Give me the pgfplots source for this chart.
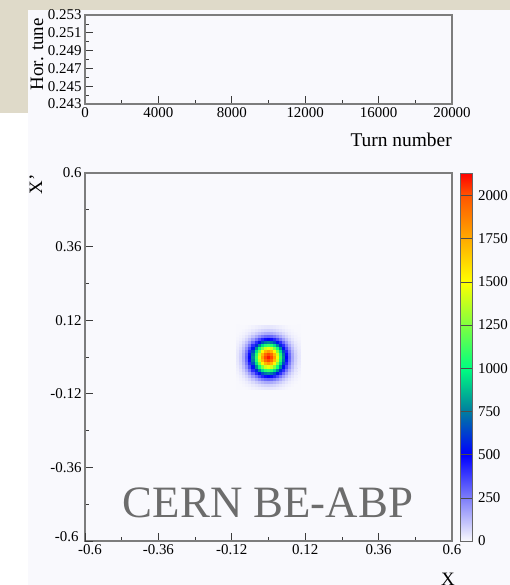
\documentclass[border=0pt]{standalone}
\usepackage{pgfplots}
\pgfplotsset{compat=1.18}
\usepackage{pgfplotstable}
\usepackage{fontspec}
\setmainfont{Liberation Serif}

\definecolor{paper}{RGB}{223,218,201}
\definecolor{panel}{RGB}{249,249,253}
\definecolor{framegray}{RGB}{125,125,125}
\definecolor{tickgray}{RGB}{60,60,60}
\definecolor{watermark}{RGB}{108,108,108}

% beam density histogram, bins of 0.01 around the origin (x varies fastest)
\pgfplotstableread[row sep=\\]{
x y c\\
-0.10 -0.10 1\\ -0.09 -0.10 2\\ -0.08 -0.10 3\\ -0.07 -0.10 5\\ -0.06 -0.10 9\\ -0.05 -0.10 14\\ -0.04 -0.10 20\\ -0.03 -0.10 27\\ -0.02 -0.10 33\\ -0.01 -0.10 37\\ 0 -0.10 38\\ 0.01 -0.10 37\\ 0.02 -0.10 33\\ 0.03 -0.10 27\\ 0.04 -0.10 20\\ 0.05 -0.10 14\\ 0.06 -0.10 9\\ 0.07 -0.10 5\\ 0.08 -0.10 3\\ 0.09 -0.10 2\\ 0.10 -0.10 1\\
-0.10 -0.09 2\\ -0.09 -0.09 3\\ -0.08 -0.09 6\\ -0.07 -0.09 12\\ -0.06 -0.09 19\\ -0.05 -0.09 30\\ -0.04 -0.09 43\\ -0.03 -0.09 57\\ -0.02 -0.09 70\\ -0.01 -0.09 79\\ 0 -0.09 82\\ 0.01 -0.09 79\\ 0.02 -0.09 70\\ 0.03 -0.09 57\\ 0.04 -0.09 43\\ 0.05 -0.09 30\\ 0.06 -0.09 19\\ 0.07 -0.09 12\\ 0.08 -0.09 6\\ 0.09 -0.09 3\\ 0.10 -0.09 2\\
-0.10 -0.08 3\\ -0.09 -0.08 6\\ -0.08 -0.08 13\\ -0.07 -0.08 23\\ -0.06 -0.08 38\\ -0.05 -0.08 60\\ -0.04 -0.08 86\\ -0.03 -0.08 113\\ -0.02 -0.08 138\\ -0.01 -0.08 156\\ 0 -0.08 162\\ 0.01 -0.08 156\\ 0.02 -0.08 138\\ 0.03 -0.08 113\\ 0.04 -0.08 86\\ 0.05 -0.08 60\\ 0.06 -0.08 38\\ 0.07 -0.08 23\\ 0.08 -0.08 13\\ 0.09 -0.08 6\\ 0.10 -0.08 3\\
-0.10 -0.07 5\\ -0.09 -0.07 12\\ -0.08 -0.07 23\\ -0.07 -0.07 42\\ -0.06 -0.07 70\\ -0.05 -0.07 109\\ -0.04 -0.07 156\\ -0.03 -0.07 206\\ -0.02 -0.07 252\\ -0.01 -0.07 284\\ 0 -0.07 296\\ 0.01 -0.07 284\\ 0.02 -0.07 252\\ 0.03 -0.07 206\\ 0.04 -0.07 156\\ 0.05 -0.07 109\\ 0.06 -0.07 70\\ 0.07 -0.07 42\\ 0.08 -0.07 23\\ 0.09 -0.07 12\\ 0.10 -0.07 5\\
-0.10 -0.06 9\\ -0.09 -0.06 19\\ -0.08 -0.06 38\\ -0.07 -0.06 70\\ -0.06 -0.06 118\\ -0.05 -0.06 183\\ -0.04 -0.06 262\\ -0.03 -0.06 347\\ -0.02 -0.06 424\\ -0.01 -0.06 478\\ 0 -0.06 498\\ 0.01 -0.06 478\\ 0.02 -0.06 424\\ 0.03 -0.06 347\\ 0.04 -0.06 262\\ 0.05 -0.06 183\\ 0.06 -0.06 118\\ 0.07 -0.06 70\\ 0.08 -0.06 38\\ 0.09 -0.06 19\\ 0.10 -0.06 9\\
-0.10 -0.05 14\\ -0.09 -0.05 30\\ -0.08 -0.05 60\\ -0.07 -0.05 109\\ -0.06 -0.05 183\\ -0.05 -0.05 284\\ -0.04 -0.05 407\\ -0.03 -0.05 539\\ -0.02 -0.05 658\\ -0.01 -0.05 742\\ 0 -0.05 773\\ 0.01 -0.05 742\\ 0.02 -0.05 658\\ 0.03 -0.05 539\\ 0.04 -0.05 407\\ 0.05 -0.05 284\\ 0.06 -0.05 183\\ 0.07 -0.05 109\\ 0.08 -0.05 60\\ 0.09 -0.05 30\\ 0.10 -0.05 14\\
-0.10 -0.04 20\\ -0.09 -0.04 43\\ -0.08 -0.04 86\\ -0.07 -0.04 156\\ -0.06 -0.04 262\\ -0.05 -0.04 407\\ -0.04 -0.04 584\\ -0.03 -0.04 773\\ -0.02 -0.04 944\\ -0.01 -0.04 1064\\ 0 -0.04 1107\\ 0.01 -0.04 1064\\ 0.02 -0.04 944\\ 0.03 -0.04 773\\ 0.04 -0.04 584\\ 0.05 -0.04 407\\ 0.06 -0.04 262\\ 0.07 -0.04 156\\ 0.08 -0.04 86\\ 0.09 -0.04 43\\ 0.10 -0.04 20\\
-0.10 -0.03 27\\ -0.09 -0.03 57\\ -0.08 -0.03 113\\ -0.07 -0.03 206\\ -0.06 -0.03 347\\ -0.05 -0.03 539\\ -0.04 -0.03 773\\ -0.03 -0.03 1022\\ -0.02 -0.03 1248\\ -0.01 -0.03 1408\\ 0 -0.03 1465\\ 0.01 -0.03 1408\\ 0.02 -0.03 1248\\ 0.03 -0.03 1022\\ 0.04 -0.03 773\\ 0.05 -0.03 539\\ 0.06 -0.03 347\\ 0.07 -0.03 206\\ 0.08 -0.03 113\\ 0.09 -0.03 57\\ 0.10 -0.03 27\\
-0.10 -0.02 33\\ -0.09 -0.02 70\\ -0.08 -0.02 138\\ -0.07 -0.02 252\\ -0.06 -0.02 424\\ -0.05 -0.02 658\\ -0.04 -0.02 944\\ -0.03 -0.02 1248\\ -0.02 -0.02 1525\\ -0.01 -0.02 1719\\ 0 -0.02 1790\\ 0.01 -0.02 1719\\ 0.02 -0.02 1525\\ 0.03 -0.02 1248\\ 0.04 -0.02 944\\ 0.05 -0.02 658\\ 0.06 -0.02 424\\ 0.07 -0.02 252\\ 0.08 -0.02 138\\ 0.09 -0.02 70\\ 0.10 -0.02 33\\
-0.10 -0.01 37\\ -0.09 -0.01 79\\ -0.08 -0.01 156\\ -0.07 -0.01 284\\ -0.06 -0.01 478\\ -0.05 -0.01 742\\ -0.04 -0.01 1064\\ -0.03 -0.01 1408\\ -0.02 -0.01 1719\\ -0.01 -0.01 1939\\ 0 -0.01 2018\\ 0.01 -0.01 1939\\ 0.02 -0.01 1719\\ 0.03 -0.01 1408\\ 0.04 -0.01 1064\\ 0.05 -0.01 742\\ 0.06 -0.01 478\\ 0.07 -0.01 284\\ 0.08 -0.01 156\\ 0.09 -0.01 79\\ 0.10 -0.01 37\\
-0.10 0 38\\ -0.09 0 82\\ -0.08 0 162\\ -0.07 0 296\\ -0.06 0 498\\ -0.05 0 773\\ -0.04 0 1107\\ -0.03 0 1465\\ -0.02 0 1790\\ -0.01 0 2018\\ 0 0 2100\\ 0.01 0 2018\\ 0.02 0 1790\\ 0.03 0 1465\\ 0.04 0 1107\\ 0.05 0 773\\ 0.06 0 498\\ 0.07 0 296\\ 0.08 0 162\\ 0.09 0 82\\ 0.10 0 38\\
-0.10 0.01 37\\ -0.09 0.01 79\\ -0.08 0.01 156\\ -0.07 0.01 284\\ -0.06 0.01 478\\ -0.05 0.01 742\\ -0.04 0.01 1064\\ -0.03 0.01 1408\\ -0.02 0.01 1719\\ -0.01 0.01 1939\\ 0 0.01 2018\\ 0.01 0.01 1939\\ 0.02 0.01 1719\\ 0.03 0.01 1408\\ 0.04 0.01 1064\\ 0.05 0.01 742\\ 0.06 0.01 478\\ 0.07 0.01 284\\ 0.08 0.01 156\\ 0.09 0.01 79\\ 0.10 0.01 37\\
-0.10 0.02 33\\ -0.09 0.02 70\\ -0.08 0.02 138\\ -0.07 0.02 252\\ -0.06 0.02 424\\ -0.05 0.02 658\\ -0.04 0.02 944\\ -0.03 0.02 1248\\ -0.02 0.02 1525\\ -0.01 0.02 1719\\ 0 0.02 1790\\ 0.01 0.02 1719\\ 0.02 0.02 1525\\ 0.03 0.02 1248\\ 0.04 0.02 944\\ 0.05 0.02 658\\ 0.06 0.02 424\\ 0.07 0.02 252\\ 0.08 0.02 138\\ 0.09 0.02 70\\ 0.10 0.02 33\\
-0.10 0.03 27\\ -0.09 0.03 57\\ -0.08 0.03 113\\ -0.07 0.03 206\\ -0.06 0.03 347\\ -0.05 0.03 539\\ -0.04 0.03 773\\ -0.03 0.03 1022\\ -0.02 0.03 1248\\ -0.01 0.03 1408\\ 0 0.03 1465\\ 0.01 0.03 1408\\ 0.02 0.03 1248\\ 0.03 0.03 1022\\ 0.04 0.03 773\\ 0.05 0.03 539\\ 0.06 0.03 347\\ 0.07 0.03 206\\ 0.08 0.03 113\\ 0.09 0.03 57\\ 0.10 0.03 27\\
-0.10 0.04 20\\ -0.09 0.04 43\\ -0.08 0.04 86\\ -0.07 0.04 156\\ -0.06 0.04 262\\ -0.05 0.04 407\\ -0.04 0.04 584\\ -0.03 0.04 773\\ -0.02 0.04 944\\ -0.01 0.04 1064\\ 0 0.04 1107\\ 0.01 0.04 1064\\ 0.02 0.04 944\\ 0.03 0.04 773\\ 0.04 0.04 584\\ 0.05 0.04 407\\ 0.06 0.04 262\\ 0.07 0.04 156\\ 0.08 0.04 86\\ 0.09 0.04 43\\ 0.10 0.04 20\\
-0.10 0.05 14\\ -0.09 0.05 30\\ -0.08 0.05 60\\ -0.07 0.05 109\\ -0.06 0.05 183\\ -0.05 0.05 284\\ -0.04 0.05 407\\ -0.03 0.05 539\\ -0.02 0.05 658\\ -0.01 0.05 742\\ 0 0.05 773\\ 0.01 0.05 742\\ 0.02 0.05 658\\ 0.03 0.05 539\\ 0.04 0.05 407\\ 0.05 0.05 284\\ 0.06 0.05 183\\ 0.07 0.05 109\\ 0.08 0.05 60\\ 0.09 0.05 30\\ 0.10 0.05 14\\
-0.10 0.06 9\\ -0.09 0.06 19\\ -0.08 0.06 38\\ -0.07 0.06 70\\ -0.06 0.06 118\\ -0.05 0.06 183\\ -0.04 0.06 262\\ -0.03 0.06 347\\ -0.02 0.06 424\\ -0.01 0.06 478\\ 0 0.06 498\\ 0.01 0.06 478\\ 0.02 0.06 424\\ 0.03 0.06 347\\ 0.04 0.06 262\\ 0.05 0.06 183\\ 0.06 0.06 118\\ 0.07 0.06 70\\ 0.08 0.06 38\\ 0.09 0.06 19\\ 0.10 0.06 9\\
-0.10 0.07 5\\ -0.09 0.07 12\\ -0.08 0.07 23\\ -0.07 0.07 42\\ -0.06 0.07 70\\ -0.05 0.07 109\\ -0.04 0.07 156\\ -0.03 0.07 206\\ -0.02 0.07 252\\ -0.01 0.07 284\\ 0 0.07 296\\ 0.01 0.07 284\\ 0.02 0.07 252\\ 0.03 0.07 206\\ 0.04 0.07 156\\ 0.05 0.07 109\\ 0.06 0.07 70\\ 0.07 0.07 42\\ 0.08 0.07 23\\ 0.09 0.07 12\\ 0.10 0.07 5\\
-0.10 0.08 3\\ -0.09 0.08 6\\ -0.08 0.08 13\\ -0.07 0.08 23\\ -0.06 0.08 38\\ -0.05 0.08 60\\ -0.04 0.08 86\\ -0.03 0.08 113\\ -0.02 0.08 138\\ -0.01 0.08 156\\ 0 0.08 162\\ 0.01 0.08 156\\ 0.02 0.08 138\\ 0.03 0.08 113\\ 0.04 0.08 86\\ 0.05 0.08 60\\ 0.06 0.08 38\\ 0.07 0.08 23\\ 0.08 0.08 13\\ 0.09 0.08 6\\ 0.10 0.08 3\\
-0.10 0.09 2\\ -0.09 0.09 3\\ -0.08 0.09 6\\ -0.07 0.09 12\\ -0.06 0.09 19\\ -0.05 0.09 30\\ -0.04 0.09 43\\ -0.03 0.09 57\\ -0.02 0.09 70\\ -0.01 0.09 79\\ 0 0.09 82\\ 0.01 0.09 79\\ 0.02 0.09 70\\ 0.03 0.09 57\\ 0.04 0.09 43\\ 0.05 0.09 30\\ 0.06 0.09 19\\ 0.07 0.09 12\\ 0.08 0.09 6\\ 0.09 0.09 3\\ 0.10 0.09 2\\
-0.10 0.10 1\\ -0.09 0.10 2\\ -0.08 0.10 3\\ -0.07 0.10 5\\ -0.06 0.10 9\\ -0.05 0.10 14\\ -0.04 0.10 20\\ -0.03 0.10 27\\ -0.02 0.10 33\\ -0.01 0.10 37\\ 0 0.10 38\\ 0.01 0.10 37\\ 0.02 0.10 33\\ 0.03 0.10 27\\ 0.04 0.10 20\\ 0.05 0.10 14\\ 0.06 0.10 9\\ 0.07 0.10 5\\ 0.08 0.10 3\\ 0.09 0.10 2\\ 0.10 0.10 1\\
}\beam

\pgfplotsset{
  rootframe/.style={
    scale only axis,
    tick align=inside,
    xtick pos=bottom, ytick pos=left,
    major tick length=8bp, minor tick length=4bp,
    axis line style={draw=framegray, line width=1.4bp},
    every tick/.style={draw=tickgray, line width=0.7bp},
    ticklabel style={font=\fontsize{15}{15}\selectfont},
    scaled x ticks=false, scaled y ticks=false,
  },
}

\begin{document}
\begin{tikzpicture}[x=1bp,y=1bp]
\clip (0,0) rectangle (510,585);
% canvas background
\fill[white] (0,0) rectangle (510,585);
\fill[panel] (28,0) rectangle (510,575);
\fill[paper] (0,575) rectangle (510,585);
\fill[paper] (0,472) rectangle (28,585);

% upper pad: horizontal tune versus turn number
\begin{axis}[
  rootframe,
  at={(85bp,481bp)}, anchor=south west,
  width=367bp, height=89bp,
  xmin=0, xmax=20000, ymin=0.243, ymax=0.253,
  xtick={0,4000,8000,12000,16000,20000},
  xticklabels={0,4000,8000,12000,16000,20000},
  minor xtick={2000,6000,10000,14000,18000},
  ytick={0.243,0.245,0.247,0.249,0.251,0.253},
  yticklabels={0.243,0.245,0.247,0.249,0.251,0.253},
  minor ytick={0.244,0.246,0.248,0.250,0.252},
  xlabel={Turn number},
  xlabel style={font=\fontsize{19.5}{19.5}\selectfont, at={(axis description cs:1,0)},
    anchor=base east, yshift=-43bp, inner sep=0pt},
  ylabel={Hor. tune},
  ylabel style={font=\fontsize{19}{19}\selectfont, at={(axis description cs:0,0.56)},
    anchor=base, yshift=42bp, inner sep=0pt},
]
\end{axis}

% lower pad: phase space density
\begin{axis}[
  rootframe,
  at={(85bp,44bp)}, anchor=south west,
  width=367bp, height=368bp,
  xmin=-0.6, xmax=0.6, ymin=-0.6, ymax=0.6,
  xtick={-0.36,-0.12,0.12,0.36,0.6},
  xticklabels={-0.36,-0.12,0.12,0.36,0.6},
  minor xtick={-0.48,-0.24,0,0.24,0.48},
  ytick={-0.36,-0.12,0.12,0.36,0.6},
  yticklabels={-0.36,-0.12,0.12,0.36,0.6},
  minor ytick={-0.48,-0.24,0,0.24,0.48},
  extra x ticks={-0.6}, extra x tick labels={-0.6},
  extra x tick style={xticklabel style={xshift=5bp}},
  extra y ticks={-0.6}, extra y tick labels={-0.6},
  extra y tick style={yticklabel style={yshift=4bp, xshift=-3bp}},
  xlabel={X},
  xlabel style={font=\fontsize{19}{19}\selectfont, at={(axis description cs:1,0)},
    anchor=north east, xshift=3bp, yshift=-32bp, inner sep=0pt},
  ylabel={X’},
  ylabel style={font=\fontsize{19}{19}\selectfont, at={(axis description cs:0,1)},
    anchor=base east, yshift=43bp, xshift=-1bp, inner sep=0pt},
  colormap={rootpal}{rgb255(0)=(249,249,253) rgb255(250)=(125,125,250)
    rgb255(500)=(0,0,255) rgb255(750)=(0,125,160) rgb255(1000)=(0,255,128)
    rgb255(1250)=(128,255,64) rgb255(1500)=(255,255,0) rgb255(1750)=(255,170,0)
    rgb255(2000)=(255,85,0) rgb255(2130)=(255,0,0)},
  point meta min=0, point meta max=2130,
  colorbar,
  colorbar style={
    at={(parent axis.north east)}, anchor=north west, xshift=0bp,
    width=12bp,
    ytick={0,250,500,750,1000,1250,1500,1750,2000},
    yticklabels={0,250,500,750,1000,1250,1500,1750,2000},
    ytick pos=right, yticklabel pos=right,
    tick align=inside, major tick length=12bp,
    every tick/.style={draw=black!70, line width=0.6bp},
    axis line style={draw=black!60, line width=0.6bp},
    ticklabel style={font=\fontsize{15}{15}\selectfont},
    yticklabel style={xshift=2bp},
  },
]
\addplot[matrix plot*, mesh/cols=21, point meta=\thisrow{c}] table[x=x, y=y] {\beam};
\end{axis}

\node[anchor=base, font=\fontsize{45}{45}\selectfont, text=watermark, inner sep=0pt]
  at (268,67) {CERN BE-ABP};
\end{tikzpicture}
\end{document}
